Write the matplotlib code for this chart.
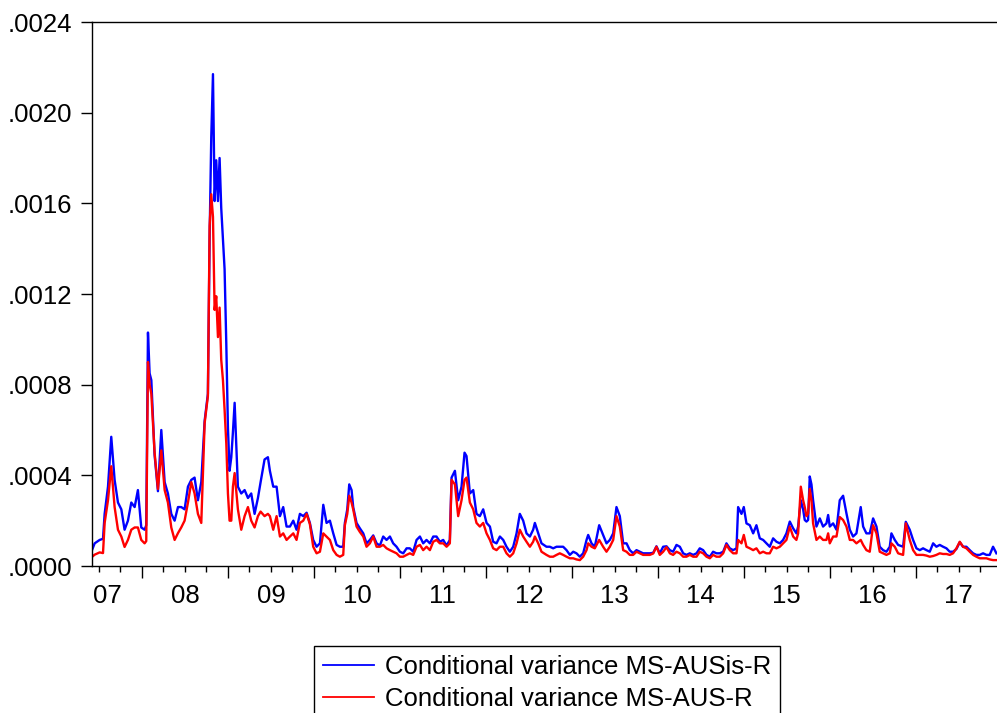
import numpy as np
import matplotlib
matplotlib.use("Agg")
import matplotlib.pyplot as plt
from matplotlib.ticker import FuncFormatter

plt.rcParams['font.family'] = ['Liberation Sans', 'DejaVu Sans']

# observation dates (decimal years)
t_years = [
    2007.419, 2007.450, 2007.508, 2007.547, 2007.566, 2007.605, 2007.643, 2007.682, 2007.721, 2007.760,
    2007.798, 2007.837, 2007.876, 2007.915, 2007.953, 2007.992, 2008.031, 2008.050, 2008.070, 2008.089,
    2008.109, 2008.147, 2008.186, 2008.225, 2008.264, 2008.302, 2008.341, 2008.380, 2008.419, 2008.457,
    2008.496, 2008.535, 2008.574, 2008.612, 2008.651, 2008.690, 2008.729, 2008.767, 2008.787, 2008.806,
    2008.826, 2008.845, 2008.864, 2008.884, 2008.903, 2008.922, 2008.942, 2008.961, 2008.981, 2009.000,
    2009.019, 2009.039, 2009.058, 2009.078, 2009.116, 2009.155, 2009.194, 2009.233, 2009.271, 2009.310,
    2009.349, 2009.380, 2009.426, 2009.465, 2009.488, 2009.527, 2009.566, 2009.605, 2009.643, 2009.682,
    2009.721, 2009.760, 2009.798, 2009.837, 2009.876, 2009.915, 2009.953, 2009.992, 2010.031, 2010.070,
    2010.109, 2010.147, 2010.186, 2010.225, 2010.264, 2010.302, 2010.341, 2010.360, 2010.388, 2010.411,
    2010.438, 2010.457, 2010.496, 2010.535, 2010.574, 2010.612, 2010.651, 2010.690, 2010.729, 2010.767,
    2010.806, 2010.845, 2010.884, 2010.922, 2010.961, 2011.000, 2011.039, 2011.078, 2011.116, 2011.155,
    2011.194, 2011.233, 2011.271, 2011.310, 2011.349, 2011.388, 2011.426, 2011.465, 2011.504, 2011.543,
    2011.581, 2011.601, 2011.640, 2011.678, 2011.717, 2011.752, 2011.775, 2011.814, 2011.853, 2011.891,
    2011.930, 2011.969, 2012.008, 2012.047, 2012.085, 2012.124, 2012.163, 2012.202, 2012.240, 2012.279,
    2012.318, 2012.357, 2012.395, 2012.434, 2012.473, 2012.512, 2012.550, 2012.570, 2012.609, 2012.647,
    2012.705, 2012.744, 2012.783, 2012.822, 2012.860, 2012.899, 2012.938, 2012.977, 2013.016, 2013.054,
    2013.093, 2013.132, 2013.171, 2013.190, 2013.229, 2013.267, 2013.318, 2013.364, 2013.403, 2013.442,
    2013.481, 2013.519, 2013.558, 2013.597, 2013.636, 2013.674, 2013.713, 2013.752, 2013.791, 2013.829,
    2013.868, 2013.907, 2013.946, 2013.984, 2014.023, 2014.062, 2014.101, 2014.140, 2014.178, 2014.217,
    2014.256, 2014.295, 2014.333, 2014.372, 2014.411, 2014.450, 2014.488, 2014.527, 2014.566, 2014.605,
    2014.643, 2014.682, 2014.721, 2014.760, 2014.798, 2014.837, 2014.876, 2014.915, 2014.934, 2014.973,
    2015.000, 2015.031, 2015.070, 2015.109, 2015.147, 2015.186, 2015.225, 2015.264, 2015.302, 2015.341,
    2015.380, 2015.419, 2015.457, 2015.496, 2015.535, 2015.574, 2015.612, 2015.632, 2015.663, 2015.690,
    2015.709, 2015.729, 2015.748, 2015.767, 2015.787, 2015.806, 2015.845, 2015.884, 2015.922, 2015.961,
    2015.981, 2016.000, 2016.039, 2016.078, 2016.116, 2016.155, 2016.194, 2016.233, 2016.271, 2016.310,
    2016.360, 2016.388, 2016.426, 2016.465, 2016.504, 2016.543, 2016.581, 2016.620, 2016.659, 2016.698,
    2016.717, 2016.756, 2016.795, 2016.853, 2016.884, 2016.930, 2016.969, 2017.008, 2017.047, 2017.085,
    2017.124, 2017.163, 2017.202, 2017.240, 2017.279, 2017.318, 2017.357, 2017.395, 2017.434, 2017.473,
    2017.512, 2017.550, 2017.589, 2017.628, 2017.667, 2017.705, 2017.744, 2017.783, 2017.822, 2017.860,
    2017.899, 2017.938,
]

# conditional variance MS-AUSis-R (units of 1e-4)
var_ausis = [
    0.7, 1.0, 1.15, 1.2, 2.3, 3.5, 5.7, 3.8, 2.8, 2.5,
    1.6, 2.0, 2.8, 2.6, 3.35, 1.7, 1.6, 1.8, 10.3, 8.5,
    8.2, 4.9, 3.3, 6.0, 3.7, 3.2, 2.3, 2.0, 2.6, 2.6,
    2.5, 3.5, 3.8, 3.9, 2.9, 3.7, 6.4, 7.6, 14.5, 18.9,
    21.7, 16.1, 17.9, 16.1, 18.0, 15.8, 14.4, 13.1, 9.8, 6.1,
    4.2, 4.8, 5.9, 7.2, 3.5, 3.2, 3.35, 3.0, 3.2, 2.3,
    3.0, 3.7, 4.7, 4.8, 4.2, 3.5, 3.5, 2.2, 2.6, 1.74,
    1.74, 2.0, 1.6, 2.3, 2.2, 2.35, 1.9, 1.15, 0.85, 1.0,
    2.7, 1.9, 2.0, 1.44, 0.93, 0.85, 0.85, 1.9, 2.5, 3.6,
    3.35, 2.6, 1.9, 1.66, 1.44, 1.0, 1.15, 1.35, 1.0, 0.9,
    1.3, 1.15, 1.3, 1.0, 0.85, 0.63, 0.56, 0.78, 0.78, 0.63,
    1.15, 1.3, 1.0, 1.15, 1.0, 1.3, 1.3, 1.07, 1.15, 0.9,
    1.15, 3.9, 4.2, 2.9, 3.5, 5.0, 4.85, 3.2, 3.35, 2.3,
    2.2, 2.5, 1.9, 1.74, 1.07, 1.0, 1.3, 1.15, 0.85, 0.63,
    0.85, 1.44, 2.3, 2.0, 1.44, 1.3, 1.6, 1.9, 1.44, 1.0,
    0.85, 0.85, 0.78, 0.85, 0.85, 0.85, 0.7, 0.49, 0.63, 0.56,
    0.41, 0.56, 1.15, 1.37, 1.0, 0.85, 1.8, 1.37, 1.0, 1.15,
    1.44, 2.6, 2.2, 1.0, 1.0, 0.7, 0.56, 0.7, 0.63, 0.56,
    0.56, 0.56, 0.58, 0.87, 0.56, 0.85, 0.87, 0.7, 0.63, 0.93,
    0.85, 0.56, 0.49, 0.56, 0.49, 0.56, 0.78, 0.7, 0.49, 0.41,
    0.63, 0.56, 0.56, 0.63, 1.0, 0.78, 0.7, 0.78, 2.6, 2.3,
    2.6, 1.88, 1.8, 1.44, 1.8, 1.22, 1.15, 1.0, 0.85, 1.22,
    1.07, 1.0, 1.15, 1.44, 1.96, 1.66, 1.44, 1.74, 2.9, 2.5,
    2.03, 1.96, 2.03, 3.95, 3.6, 2.9, 1.74, 2.1, 1.74, 1.88,
    2.25, 1.74, 1.88, 1.6, 2.9, 3.1, 2.32, 1.6, 1.3, 1.44,
    2.6, 1.74, 1.44, 1.44, 2.1, 1.74, 0.85, 0.7, 0.63, 0.85,
    1.44, 1.15, 0.93, 0.85, 1.95, 1.6, 1.15, 0.78, 0.7, 0.78,
    0.7, 0.63, 1.0, 0.85, 0.93, 0.85, 0.78, 0.63, 0.63, 0.75,
    1.05, 0.85, 0.85, 0.7, 0.56, 0.49, 0.49, 0.56, 0.49, 0.49,
    0.85, 0.56,
]

# conditional variance MS-AUS-R (units of 1e-4)
var_aus = [
    0.4, 0.5, 0.6, 0.57, 1.9, 2.9, 4.4, 2.6, 1.6, 1.3,
    0.84, 1.15, 1.6, 1.7, 1.7, 1.15, 1.0, 1.1, 9.0, 8.0,
    7.6, 5.0, 3.4, 5.1, 3.35, 2.8, 1.7, 1.15, 1.45, 1.7,
    2.0, 2.8, 3.7, 3.2, 2.3, 1.9, 6.3, 7.5, 15.0, 16.4,
    15.4, 11.3, 11.9, 10.1, 11.4, 9.1, 8.2, 6.9, 5.4, 3.2,
    2.0, 2.0, 3.5, 4.1, 2.5, 1.6, 2.2, 2.6, 2.0, 1.7,
    2.2, 2.4, 2.2, 2.3, 2.2, 1.6, 2.2, 1.3, 1.44, 1.15,
    1.3, 1.44, 1.15, 1.9, 2.0, 2.3, 1.85, 0.85, 0.56, 0.63,
    1.44, 1.3, 1.15, 0.7, 0.49, 0.41, 0.49, 1.8, 2.3, 3.1,
    2.8, 2.5, 1.74, 1.5, 1.3, 0.85, 1.0, 1.3, 0.85, 0.85,
    0.93, 0.78, 0.7, 0.63, 0.56, 0.41, 0.41, 0.49, 0.56, 0.49,
    0.85, 0.93, 0.7, 0.85, 0.7, 1.07, 1.15, 1.0, 1.0, 0.85,
    1.0, 3.8, 3.6, 2.2, 2.9, 3.8, 3.9, 2.8, 2.5, 1.9,
    1.74, 1.9, 1.44, 1.15, 0.78, 0.7, 0.85, 0.85, 0.56, 0.41,
    0.56, 1.0, 1.6, 1.3, 1.07, 0.85, 1.07, 1.3, 1.0, 0.63,
    0.49, 0.41, 0.41, 0.49, 0.56, 0.49, 0.41, 0.34, 0.34, 0.29,
    0.26, 0.41, 0.7, 1.0, 0.85, 0.78, 1.15, 0.85, 0.63, 0.85,
    1.15, 2.2, 1.74, 0.7, 0.63, 0.49, 0.49, 0.63, 0.56, 0.49,
    0.49, 0.49, 0.55, 0.85, 0.49, 0.63, 0.83, 0.56, 0.49, 0.63,
    0.56, 0.41, 0.41, 0.49, 0.41, 0.41, 0.63, 0.56, 0.41, 0.34,
    0.49, 0.41, 0.41, 0.56, 0.93, 0.7, 0.56, 0.56, 1.15, 1.0,
    1.37, 0.85, 0.78, 0.7, 0.78, 0.56, 0.63, 0.56, 0.56, 0.85,
    0.78, 0.85, 1.0, 1.15, 1.74, 1.3, 1.15, 1.44, 3.5, 2.9,
    2.6, 2.2, 2.32, 3.4, 2.9, 1.88, 1.15, 1.3, 1.15, 1.15,
    1.44, 1.0, 1.3, 1.3, 2.16, 2.03, 1.74, 1.15, 1.15, 1.0,
    1.15, 0.93, 0.7, 0.63, 1.8, 1.44, 0.63, 0.56, 0.49, 0.56,
    1.0, 0.85, 0.56, 0.49, 1.88, 1.15, 0.7, 0.49, 0.49, 0.49,
    0.46, 0.41, 0.44, 0.49, 0.56, 0.53, 0.53, 0.49, 0.56, 0.78,
    1.07, 0.85, 0.78, 0.63, 0.49, 0.41, 0.34, 0.34, 0.34, 0.29,
    0.26, 0.26,
]

year_labels = ['07', '08', '09', '10', '11', '12', '13', '14', '15', '16', '17']
year_label_pos = [2007.6, 2008.5, 2009.5, 2010.5, 2011.5, 2012.5,
                  2013.5, 2014.5, 2015.5, 2016.5, 2017.5]
y_ticks = [0.0, 0.0004, 0.0008, 0.0012, 0.0016, 0.0020, 0.0024]

t = np.array(t_years)
v1 = np.array(var_ausis) * 1e-4
v2 = np.array(var_aus) * 1e-4

W, H = 997, 713
FS = 18.5
fig = plt.figure(figsize=(W / 100, H / 100), dpi=100)
ax = fig.add_axes([92 / W, 1 - 566 / H, 1 - 92 / W, (566 - 22) / H])

ax.plot(t, v1, color='#0000ff', lw=1.7, label='Conditional variance MS-AUSis-R')
ax.plot(t, v2, color='#ff0000', lw=1.7, label='Conditional variance MS-AUS-R')

# y axis
ax.set_yticks(y_ticks)
ax.yaxis.set_major_formatter(FuncFormatter(lambda v, p: f"{v:.4f}"[1:]))
ax.tick_params(axis='y', direction='out', length=8, width=1, pad=6.5, labelsize=FS)

# x axis: long ticks at year starts, short ticks at quarters, labels mid-year
ax.set_xticks(list(range(2008, 2018)))
ax.set_xticks([y + q for y in range(2007, 2018) for q in (0.25, 0.5, 0.75)], minor=True)
ax.tick_params(axis='x', which='major', direction='out', length=8.6, width=1, labelbottom=False)
ax.tick_params(axis='x', which='minor', direction='out', length=4.3, width=1)

sec = ax.secondary_xaxis('bottom')
sec.set_xticks(year_label_pos, labels=year_labels)
sec.tick_params(length=0, pad=13, labelsize=FS)
sec.spines['bottom'].set_visible(False)

# limits last, so the tick lists do not widen them
ax.set_xlim(2007.419, 2017.945)
ax.set_ylim(0, 0.0024)

ax.spines['right'].set_visible(False)
for s in ('left', 'bottom', 'top'):
    ax.spines[s].set_linewidth(1.0)

leg = fig.legend(loc='upper left', bbox_to_anchor=(314 / W, 1 - 646 / H),
                 frameon=True, fancybox=False, edgecolor='black', framealpha=1,
                 fontsize=FS, handlelength=2.0, handletextpad=0.4,
                 borderpad=0.35, labelspacing=0.3, borderaxespad=0)
leg.get_frame().set_linewidth(1.0)
for line in leg.get_lines():
    line.set_linewidth(1.3)

fig.savefig('out.png', dpi=100)
